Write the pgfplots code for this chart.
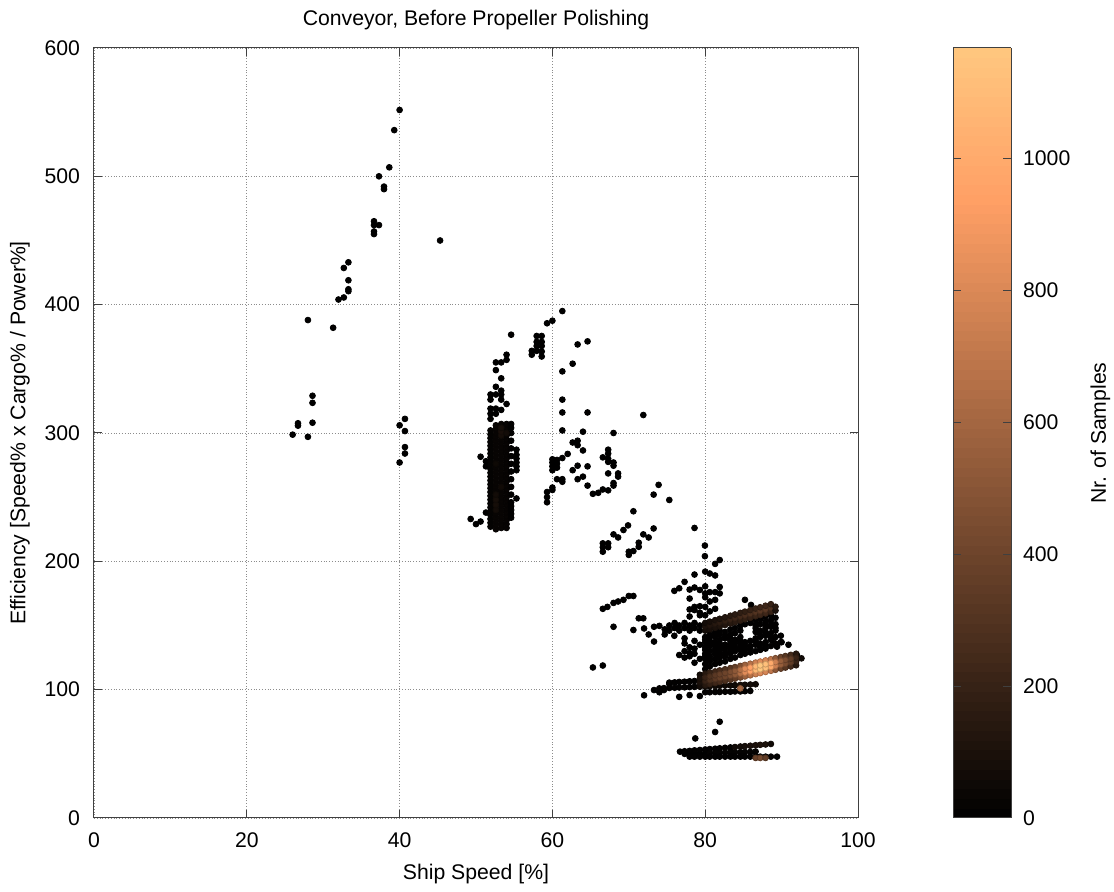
\documentclass[border=0pt]{standalone}
\usepackage{pgfplots}
\pgfplotsset{compat=1.18}
\usepackage{pgfplotstable}
\usepackage{fontspec}
\setmainfont{Liberation Sans}

\pgfplotstableread[row sep=\\]{
x y c\\
26.0 298.7 2\\ 26.7 307.6 2\\ 26.7 305.7 2\\ 28.0 297 2\\ 28.0 388 2\\ 28.6 329 2\\ 28.6 323.5 2\\ 28.6 308 2\\
31.3 382 2\\ 32.0 404 2\\ 32.7 405.6 2\\ 32.7 428.6 2\\ 33.3 433 2\\ 33.3 419 2\\ 33.3 412 2\\ 33.3 410.5 2\\
36.65 465 2\\ 36.65 462 2\\ 36.65 457 2\\ 36.65 455 2\\ 37.3 462 2\\ 37.3 500 2\\ 37.96 492 2\\ 37.96 490 2\\
38.65 507 2\\ 39.3 536 2\\ 40.0 551.7 2\\ 45.3 450 2\\ 40.0 306 2\\ 40.7 311 2\\ 40.7 301.5 2\\ 40.7 289 2\\ 40.7 284 2\\ 40.0 277 2\\
49.3 233 2\\ 50.0 229 2\\ 50.6 231 2\\ 51.3 238 2\\ 50.6 281.5 2\\ 51.3 278 2\\ 51.3 274 2\\ 54.6 376.6 2\\
52.6 355 2\\ 53.3 355 2\\ 54.0 361 2\\ 54.0 357 2\\ 52.6 349 2\\ 53.3 342.6 2\\ 52.6 336 2\\ 52.6 330 2\\
53.3 333 2\\ 53.3 330 2\\ 51.9 330 2\\ 51.9 326 2\\ 51.9 319 2\\ 52.6 319 2\\ 53.3 318 2\\ 54.0 322.6 2\\
51.9 315 2\\ 52.6 315 2\\ 51.9 311 2\\ 53.3 326 2\\ 55.3 249 2\\
51.9 227 20\\ 51.9 230 20\\ 51.9 233 20\\ 51.9 236 20\\ 51.9 239 20\\ 51.9 242 20\\ 51.9 245 20\\ 51.9 248 20\\ 51.9 251 20\\
51.9 254 20\\ 51.9 257 20\\ 51.9 260 20\\ 51.9 263 20\\ 51.9 266 20\\ 51.9 269 20\\ 51.9 272 20\\ 51.9 275 20\\ 51.9 278 20\\
51.9 281 20\\ 51.9 284 20\\ 51.9 287 20\\ 51.9 290 20\\ 51.9 293 20\\ 51.9 296 20\\ 51.9 299 20\\ 51.9 302 20\\
52.6 225 30\\ 52.6 228 30\\ 52.6 231 30\\ 52.6 234 30\\ 52.6 237 30\\ 52.6 240 30\\ 52.6 243 30\\ 52.6 246 30\\ 52.6 249 30\\
52.6 252 30\\ 52.6 255 30\\ 52.6 258 30\\ 52.6 261 30\\ 52.6 264 30\\ 52.6 267 30\\ 52.6 270 30\\ 52.6 273 30\\ 52.6 276 30\\
52.6 279 30\\ 52.6 282 30\\ 52.6 285 30\\ 52.6 288 30\\ 52.6 291 30\\ 52.6 294 30\\ 52.6 297 30\\ 52.6 300 30\\ 52.6 303 30\\ 52.6 306 30\\
53.3 226 30\\ 53.3 229 30\\ 53.3 232 30\\ 53.3 235 30\\ 53.3 238 30\\ 53.3 241 30\\ 53.3 244 30\\ 53.3 247 30\\ 53.3 250 30\\
53.3 253 30\\ 53.3 256 30\\ 53.3 259 30\\ 53.3 262 30\\ 53.3 265 30\\ 53.3 268 30\\ 53.3 271 30\\ 53.3 274 30\\ 53.3 277 30\\
53.3 280 30\\ 53.3 283 30\\ 53.3 286 30\\ 53.3 289 30\\ 53.3 292 30\\ 53.3 295 30\\ 53.3 298 30\\ 53.3 301 30\\ 53.3 304 30\\ 53.3 307 30\\
54.0 226 25\\ 54.0 229 25\\ 54.0 232 25\\ 54.0 235 25\\ 54.0 238 25\\ 54.0 241 25\\ 54.0 244 25\\ 54.0 247 25\\ 54.0 250 25\\
54.0 253 25\\ 54.0 256 25\\ 54.0 259 25\\ 54.0 262 25\\ 54.0 265 25\\ 54.0 268 25\\ 54.0 271 25\\ 54.0 274 25\\ 54.0 277 25\\
54.0 280 25\\ 54.0 283 25\\ 54.0 286 25\\ 54.0 289 25\\ 54.0 292 25\\ 54.0 295 25\\ 54.0 298 25\\ 54.0 301 25\\ 54.0 304 25\\ 54.0 307 25\\
54.6 234 10\\ 54.6 237 10\\ 54.6 240 10\\ 54.6 243 10\\ 54.6 246 10\\ 54.6 252 10\\ 54.6 258 10\\ 54.6 264 10\\ 54.6 270 10\\
54.6 276 10\\ 54.6 282 10\\ 54.6 288 10\\ 54.6 294 10\\ 54.6 300 10\\ 54.6 304 10\\ 54.6 307 10\\
55.3 271 5\\ 55.3 274 5\\ 55.3 277 5\\ 55.3 280 5\\ 55.3 283 5\\ 55.3 287 5\\
53.3 298 80\\ 53.3 301 90\\ 53.3 304 80\\ 54.0 300 70\\ 52.6 240 70\\ 52.6 244 80\\ 52.6 248 80\\ 52.6 252 70\\ 53.3 258 60\\ 52.6 276 50\\
57.94 375.6 2\\ 58.6 375.6 2\\ 57.94 371 2\\ 58.6 371 2\\ 57.94 367.8 2\\ 58.6 367.8 2\\ 57.3 364 2\\ 57.3 361 2\\ 57.94 364 2\\ 58.6 363.5 2\\ 58.6 359.6 2\\
59.3 385.5 2\\ 60.0 387.5 2\\ 61.3 395 2\\ 63.3 369 2\\ 64.6 371.4 2\\ 62.65 354 2\\ 61.3 348 2\\ 61.3 326 2\\ 61.3 316 2\\ 64.6 316 2\\
71.9 314 2\\ 61.3 302 2\\ 64.0 301 2\\ 68.0 300 2\\ 62.65 292.6 2\\ 63.3 294 2\\ 63.3 290.5 2\\ 64.0 286.4 2\\ 62.0 283.7 2\\ 61.3 280.5 2\\
60.0 271 2\\ 60.0 274 2\\ 60.0 277 2\\ 60.0 279.5 2\\ 60.6 273 2\\ 60.6 276 2\\ 60.6 279 2\\
62.65 271 2\\ 63.3 274.5 2\\ 64.6 274 2\\ 64.0 266 2\\ 63.3 264 2\\ 60.6 264 2\\ 61.3 264 2\\ 61.3 262 2\\ 60.0 257.5 2\\ 60.0 255.6 2\\
59.3 254 2\\ 59.3 250 2\\ 59.3 246 2\\ 64.6 259 2\\ 65.3 252.6 2\\ 66.0 253.4 2\\ 66.6 256 2\\ 67.3 255.3 2\\ 67.3 287 2\\ 67.3 284 2\\
67.3 280 2\\ 67.3 277.5 2\\ 66.6 281 2\\ 68.0 277 2\\ 68.0 274.5 2\\ 68.6 268.5 2\\ 68.6 266 2\\ 68.0 261 2\\ 68.0 259 2\\ 67.3 268.5 2\\
73.9 259.6 2\\ 73.25 252 2\\ 75.3 247.8 2\\ 70.6 239 2\\ 69.9 228 2\\ 69.3 224.4 2\\ 68.6 218.6 2\\ 68.0 221 2\\ 73.25 225.6 2\\ 71.9 221 2\\
72.6 218.6 2\\ 78.6 226 2\\ 66.6 214 2\\ 66.6 211 2\\ 66.6 207.5 2\\ 67.3 214 2\\ 67.3 211 2\\ 70.0 207.5 2\\ 70.0 205 2\\ 70.6 208 2\\
71.3 214.5 2\\ 71.3 211.3 2\\
79.96 212.3 2\\ 79.96 204 2\\ 81.3 198 2\\ 81.9 201 2\\ 80.0 192 2\\ 80.6 190.5 2\\ 81.3 189 2\\ 78.6 189.7 2\\ 77.3 184 2\\ 75.96 177 2\\
76.6 179 2\\ 77.96 178 2\\ 78.6 179.6 2\\ 79.3 177.7 2\\ 77.96 171 2\\ 78.6 164.5 2\\ 78.6 162 2\\ 77.96 162.5 2\\ 77.96 157 2\\ 79.3 165 2\\
79.3 158 2\\ 80.0 172 2\\ 80.0 164.5 2\\ 80.6 176 2\\ 81.3 176 2\\ 81.9 180 2\\ 81.9 175 2\\ 80.0 180.5 2\\ 80.0 175 2\\ 80.6 168.7 2\\
81.3 170 2\\ 80.0 158 2\\ 80.6 161 2\\ 81.3 163 2\\ 79.3 160 2\\
66.6 163 2\\ 67.2 164.5 2\\ 68.0 167.6 2\\ 68.6 168.7 2\\ 69.3 170 2\\ 70.0 173 2\\ 70.6 173 2\\ 68.0 149 2\\ 71.3 155.6 2\\ 71.9 155.6 2\\
70.6 146.5 2\\ 72.0 147.7 2\\ 72.6 143 2\\ 73.3 137.5 2\\ 73.3 149 2\\ 74.0 149.7 2\\ 85.2 170 2\\ 86.0 166 2\\
65.3 117.3 2\\ 66.6 118.8 2\\ 72.0 95.6 2\\ 73.3 99.7 2\\ 74.0 98 2\\ 74.6 99.7 2\\ 75.3 104.4 2\\ 76.6 94.4 2\\ 77.96 95.8 2\\ 79.3 95 2\\
74.7 147 2\\ 75.3 150 2\\ 75.3 146 2\\ 76.0 152 2\\ 76.0 148 2\\ 76.6 150 2\\ 76.6 146 2\\ 77.3 148 2\\ 77.3 152 2\\ 77.96 150 2\\
77.96 146 2\\ 78.6 148 2\\ 78.6 152 2\\ 79.3 150 2\\ 79.3 146 2\\ 75.96 142 2\\ 77.3 140 2\\ 74.7 143 2\\ 77.3 136 2\\ 78.6 138 2\\ 77.96 133 2\\
77.3 130 2\\ 77.96 126 2\\ 78.6 132 2\\ 78.6 128 2\\ 79.3 135 2\\ 79.3 124 2\\ 77.3 125 2\\ 77.96 128.5 2\\ 78.6 121 2\\ 76.6 127 2\\
90.0 137 2\\ 90.9 135 2\\ 92.0 127 2\\ 88.7 138.7 2\\ 89.4 133.5 2\\ 81.9 75 2\\ 81.3 67 2\\ 78.7 62 2\\
80.0 116 8\\ 80.0 120 8\\ 80.0 124 8\\ 80.0 128 8\\ 80.0 133 8\\ 80.0 137 8\\ 80.0 141 8\\ 80.0 126 8\\ 80.0 131 8\\ 80.0 139 8\\
80.6 118 8\\ 80.6 122 8\\ 80.6 126 8\\ 80.6 130 8\\ 80.6 134 8\\ 80.6 138 8\\ 80.6 143 8\\ 80.6 124 8\\ 80.6 136 8\\ 80.6 141 8\\
81.3 120 8\\ 81.3 124 8\\ 81.3 128 8\\ 81.3 132 8\\ 81.3 137 8\\ 81.3 141 8\\ 81.3 145 8\\ 81.3 130 8\\ 81.3 135 8\\ 81.3 143 8\\
81.9 121 8\\ 81.9 125 8\\ 81.9 129 8\\ 81.9 134 8\\ 81.9 139 8\\ 81.9 143 8\\ 81.9 127 8\\ 81.9 132 8\\ 81.9 136 8\\ 81.9 146 8\\
82.6 122 8\\ 82.6 126 8\\ 82.6 131 8\\ 82.6 135 8\\ 82.6 140 8\\ 82.6 145 8\\ 82.6 128 8\\ 82.6 133 8\\ 82.6 142 8\\
83.3 124 8\\ 83.3 128 8\\ 83.3 133 8\\ 83.3 138 8\\ 83.3 143 8\\ 83.3 147 8\\ 83.3 130 8\\ 83.3 136 8\\ 83.3 140 8\\
83.9 125 8\\ 83.9 130 8\\ 83.9 134 8\\ 83.9 139 8\\ 83.9 144 8\\ 83.9 132 8\\ 83.9 137 8\\ 83.9 148 8\\
84.6 127 8\\ 84.6 131 8\\ 84.6 136 8\\ 84.6 141 8\\ 84.6 146 8\\ 84.6 150 8\\ 84.6 133 8\\ 84.6 138 8\\
85.2 128 8\\ 85.2 133 8\\ 85.2 137 8\\ 85.2 151 8\\ 85.2 131 8\\ 85.2 135 8\\
85.9 129 8\\ 85.9 134 8\\ 85.9 138 8\\ 85.9 152 8\\ 85.9 155 8\\ 85.9 132 8\\
86.6 130 8\\ 86.6 135 8\\ 86.6 140 8\\ 86.6 145 8\\ 86.6 150 8\\ 86.6 154 8\\ 86.6 138 8\\ 86.6 148 8\\
87.2 131 8\\ 87.2 136 8\\ 87.2 141 8\\ 87.2 146 8\\ 87.2 151 8\\ 87.2 155 8\\ 87.2 133 8\\ 87.2 143 8\\
87.9 132 8\\ 87.9 137 8\\ 87.9 142 8\\ 87.9 148 8\\ 87.9 153 8\\ 87.9 157 8\\ 87.9 135 8\\ 87.9 145 8\\ 87.9 150 8\\
88.6 134 8\\ 88.6 139 8\\ 88.6 144 8\\ 88.6 149 8\\ 88.6 154 8\\ 88.6 158 8\\ 88.6 141 8\\ 88.6 151 8\\
89.2 136 8\\ 89.2 141 8\\ 89.2 146 8\\ 89.2 151 8\\ 89.2 156 8\\ 89.9 137 8\\ 89.9 142 8\\ 89.2 148 8\\
76.7 51.7 5\\ 77.3 50 5\\ 77.96 49.5 5\\ 78.6 49.5 5\\ 79.3 50 5\\ 80.0 50.5 5\\
77.3 52 10\\ 77.96 52.3 10\\ 78.6 52.7 10\\ 79.3 53 10\\ 80.0 53.4 10\\ 80.6 53.7 10\\ 81.3 54 10\\ 81.9 54.3 10\\ 82.6 54.7 10\\ 83.3 55 10\\
80.6 50.5 20\\ 81.3 50.8 20\\ 81.9 50.8 20\\ 82.6 51 20\\ 83.3 51 20\\ 83.9 51.2 20\\ 84.6 51.3 20\\ 85.2 51.4 20\\ 85.9 51.5 20\\ 86.6 51.8 20\\
77.96 47.8 10\\ 78.6 47.8 10\\ 79.3 47.8 10\\ 80.0 47.8 10\\ 80.6 47.8 10\\ 81.3 47.8 10\\ 81.9 47.8 10\\ 82.6 47.8 10\\ 83.3 47.8 10\\
83.9 47.8 10\\ 84.6 47.8 10\\ 85.2 47.8 10\\ 85.9 47.8 10\\ 86.6 47.8 20\\ 87.2 47.8 20\\ 87.9 47.8 20\\ 88.6 47.8 10\\ 89.4 47.8 5\\
83.9 55.3 60\\ 84.6 55.7 70\\ 85.2 56 80\\ 85.9 56.3 90\\ 86.6 56.7 100\\ 87.2 57 110\\ 87.9 57.3 100\\ 88.6 57.7 60\\
86.6 46.8 380\\ 87.2 46.8 420\\ 87.9 46.8 350\\
75.3 105.5 10\\ 76.0 105.7 10\\ 76.6 106 10\\ 77.3 106.2 10\\ 77.96 106.5 10\\ 78.6 106.7 10\\ 79.3 107 10\\
80.0 98 10\\ 80.6 98 10\\ 81.3 98.2 10\\ 81.9 98.2 10\\ 82.6 98.4 10\\ 83.3 98.4 10\\ 83.9 98.6 10\\ 84.6 98.6 10\\ 85.2 98.8 10\\ 85.9 99 10\\
74.0 101 10\\ 74.6 101.2 10\\ 75.3 101.3 10\\ 76.0 101.5 10\\ 76.6 101.7 10\\ 77.3 101.8 10\\ 77.96 102 10\\ 78.6 102.2 10\\ 79.3 102.3 10\\
80.0 102.5 60\\ 80.6 102.7 60\\ 81.3 102.8 60\\ 81.9 103 60\\ 82.6 103.2 60\\ 83.3 103.3 60\\ 83.9 103.5 60\\ 84.6 103.7 100\\
85.2 103.8 80\\ 85.9 104 80\\ 86.6 104.2 60\\
80.0 146 70\\ 80.0 149 100\\ 80.0 152 70\\
80.6 147 85\\ 80.6 150 120\\ 80.6 153 85\\
81.3 148.2 100\\ 81.3 151.2 140\\ 81.3 154.2 100\\
81.9 149.2 110\\ 81.9 152.2 160\\ 81.9 155.2 110\\
82.6 150.4 125\\ 82.6 153.4 180\\ 82.6 156.4 125\\
83.3 151.6 140\\ 83.3 154.6 200\\ 83.3 157.6 140\\
83.9 152.6 155\\ 83.9 155.6 220\\ 83.9 158.6 155\\
84.6 153.8 170\\ 84.6 156.8 240\\ 84.6 159.8 170\\
85.2 154.8 180\\ 85.2 157.8 260\\ 85.2 160.8 180\\
85.9 156 195\\ 85.9 159 280\\ 85.9 162 195\\
86.6 157.2 210\\ 86.6 160.2 300\\ 86.6 163.2 210\\
87.2 158.2 220\\ 87.2 161.2 320\\ 87.2 164.2 220\\
87.9 159.4 230\\ 87.9 162.4 330\\ 87.9 165.4 230\\
88.6 160.6 200\\ 88.6 163.6 290\\ 88.6 166.6 200\\
89.2 161.6 100\\ 89.2 164.6 150\\
79.3 102.6 70\\ 79.3 111.6 70\\ 80.0 103.5 140\\ 80.0 112.5 140\\ 80.6 104.3 195\\ 80.6 113.3 195\\
81.3 105.2 230\\ 81.3 114.2 230\\ 81.9 106 260\\ 81.9 115 260\\ 82.6 106.9 280\\ 82.6 115.9 280\\
83.3 107.8 315\\ 83.3 116.8 315\\ 83.9 108.6 365\\ 83.9 117.6 365\\ 84.6 109.5 455\\ 84.6 118.5 455\\
85.2 110.3 575\\ 85.2 119.3 575\\ 85.9 111.2 665\\ 85.9 120.2 665\\ 86.6 112.1 755\\ 86.6 121.1 755\\
87.2 112.9 810\\ 87.2 121.9 810\\ 87.9 113.8 785\\ 87.9 122.8 785\\ 88.6 114.7 700\\ 88.6 123.7 700\\
89.2 115.5 525\\ 89.2 124.5 525\\ 89.9 116.4 385\\ 89.9 125.4 385\\ 90.5 117.2 315\\ 90.5 126.2 315\\
91.2 118.1 245\\ 91.2 127.1 245\\ 91.9 119 140\\ 91.9 128 140\\
92.6 124.4 60\\ 79.3 105.6 100\\ 79.3 108.6 100\\ 80.0 106.5 200\\ 80.0 109.5 200\\ 91.9 122 200\\ 91.9 125 200\\
80.6 107.3 280\\ 80.6 110.3 280\\ 81.3 108.2 330\\ 81.3 111.2 330\\ 91.2 121.1 350\\ 91.2 124.1 350\\
81.9 109 370\\ 81.9 112 370\\ 82.6 109.9 400\\ 82.6 112.9 400\\ 83.3 110.8 450\\ 83.3 113.8 450\\
90.5 120.2 450\\ 90.5 123.2 450\\ 83.9 111.6 520\\ 83.9 114.6 520\\ 89.9 119.4 550\\ 89.9 122.4 550\\
84.6 101 600\\ 84.6 112.5 650\\ 84.6 115.5 650\\ 89.2 118.5 750\\ 89.2 121.5 750\\ 85.2 113.3 820\\ 85.2 116.3 820\\
85.9 114.2 950\\ 85.9 117.2 950\\ 88.6 117.7 1000\\ 88.6 120.7 1000\\ 86.6 115.1 1080\\ 86.6 118.1 1080\\
87.9 116.8 1120\\ 87.9 119.8 1120\\ 87.2 115.9 1160\\ 87.2 118.9 1160\\
}\pointdata

\begin{document}
\begin{tikzpicture}[font=\fontsize{10.6}{12.7}\selectfont]
\useasboundingbox (-47pt,-37pt) rectangle (510pt,409pt);
\begin{axis}[
  name=main, at={(0,0)}, anchor=south west,
  scale only axis, width=382pt, height=385pt,
  xmin=0, xmax=100, ymin=0, ymax=600,
  xtick={0,20,...,100}, ytick={0,100,...,600},
  /pgf/number format/assume math mode=true,
  /pgf/number format/1000 sep={},
  grid=major,
  major grid style={densely dotted, black!45, line width=0.4pt},
  tick align=inside, xtick pos=both, ytick pos=both,
  major tick length=4pt,
  axis line style={black!75, line width=0.5pt},
  every tick/.style={black!75, line width=0.5pt},
  xticklabel style={yshift=-4pt},
  yticklabel style={xshift=-3.5pt},
  title={Conveyor, Before Propeller Polishing},
  title style={at={(axis description cs:0.5,1)}, anchor=base, yshift=5pt},
  xlabel={Ship Speed [\%]},
  xlabel style={at={(axis description cs:0.5,0)}, anchor=base, yshift=-31pt},
  ylabel={Efficiency [Speed\% x Cargo\% / Power\%]},
  ylabel style={at={(axis description cs:-0.097,0.5)}, anchor=center},
  colormap={copper}{rgb255(0cm)=(0,0,0) rgb255(4cm)=(255,159,101) rgb255(5cm)=(255,199,127)},
  point meta min=0, point meta max=1167,
  colorbar sampled,
  colorbar style={
    at={(parent axis.north east)}, anchor=north west, xshift=39pt,
    width=29pt,
    samples=80,
    ytick={0,200,...,1000},
    /pgf/number format/assume math mode=true,
    /pgf/number format/1000 sep={},
    yticklabel pos=right, ytick pos=both,
    tick align=inside, major tick length=4pt,
    axis line style={black!75, line width=0.5pt},
    every tick/.style={black!75, line width=0.5pt},
    yticklabel style={xshift=2.5pt},
    ylabel={Nr. of Samples},
    ylabel style={at={(axis description cs:2.362,0.5)}, anchor=north, inner sep=0pt},
  },
]
\addplot[scatter, only marks, mark=*, mark size=1.45pt, scatter src=explicit]
  table[x=x, y=y, meta=c] {\pointdata};
\end{axis}
\end{tikzpicture}
\end{document}
